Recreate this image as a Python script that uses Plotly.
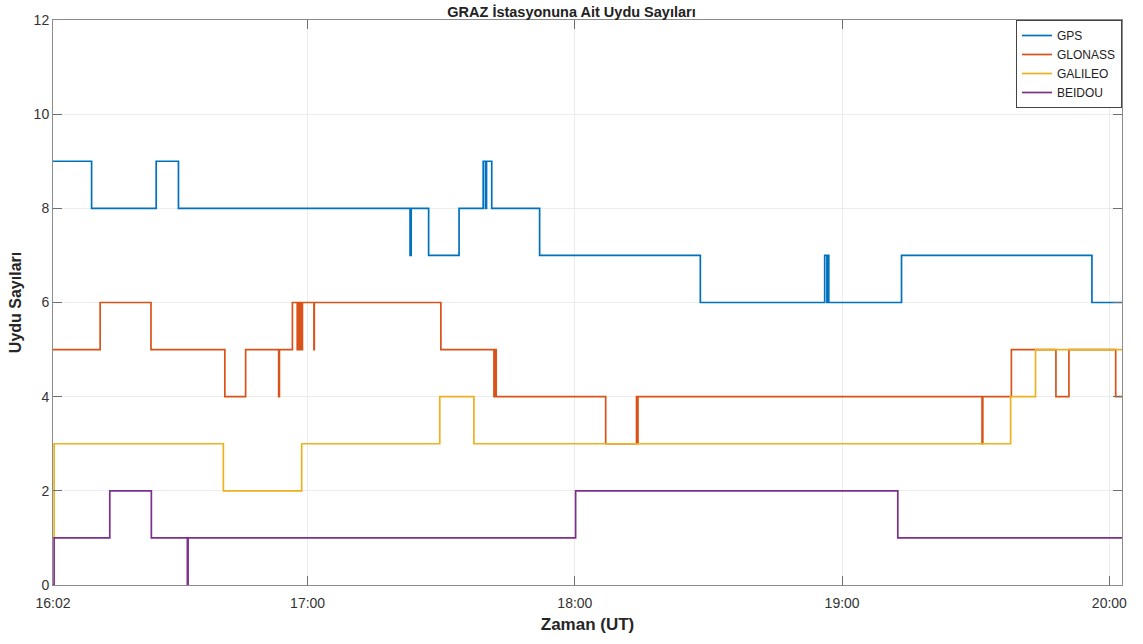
import plotly.graph_objects as go

DAY = "2019-01-01 "

gps_t = ["16:02:50", "16:11:30", "16:26:00", "16:31:00", "17:23:00", "17:23:15", "17:27:10",
         "17:34:00", "17:39:25", "17:39:55", "17:40:10", "17:41:20", "17:52:05", "18:28:10",
         "18:56:05", "18:56:35", "18:56:50", "18:57:00", "19:13:20", "19:56:05", "20:02:50"]
gps_v = [9, 8, 9, 8, 7, 8, 7, 8, 9, 8, 9, 8, 7, 6, 7, 6, 7, 6, 7, 6, 6]

glonass_t = ["16:02:50", "16:13:25", "16:24:50", "16:41:25", "16:46:05", "16:53:30", "16:53:40",
             "16:56:35", "16:57:40", "16:57:50", "16:58:10", "16:58:20", "16:58:40", "16:58:50",
             "17:01:25", "17:01:30", "17:29:55", "17:41:50", "17:42:05", "17:42:20", "18:06:55",
             "18:13:50", "18:14:00", "18:14:10", "19:31:25", "19:31:35", "19:38:00", "19:48:00",
             "19:50:55", "20:01:25", "20:02:50"]
glonass_v = [5, 6, 5, 4, 5, 4, 5, 6, 5, 6, 5, 6, 5, 6, 5, 6, 5, 4, 5, 4, 3,
             4, 3, 4, 3, 4, 5, 4, 5, 4, 4]

galileo_t = ["16:02:50", "16:03:05", "16:41:05", "16:58:40", "17:29:40", "17:37:20",
             "19:37:50", "19:43:25", "20:02:50"]
galileo_v = [1, 3, 2, 3, 4, 3, 4, 5, 5]

beidou_t = ["16:02:50", "16:03:05", "16:15:35", "16:24:55", "16:33:00", "16:33:10",
            "18:00:10", "19:12:30", "20:02:50"]
beidou_v = [0, 1, 2, 1, 0, 1, 2, 1, 1]

tick_vals = ["16:02:50", "17:00:00", "18:00:00", "19:00:00", "20:00:00"]
tick_text = ["16:02", "17:00", "18:00", "19:00", "20:00"]

series = [
    ("GPS", gps_t, gps_v, "#0072BD"),
    ("GLONASS", glonass_t, glonass_v, "#D95319"),
    ("GALILEO", galileo_t, galileo_v, "#EDB120"),
    ("BEIDOU", beidou_t, beidou_v, "#7E2F8E"),
]

fig = go.Figure()
for name, t, v, c in series:
    fig.add_trace(go.Scatter(
        x=[DAY + s for s in t], y=v, name=name, mode="lines",
        line=dict(color=c, width=1.7, shape="hv"),
    ))

axis_common = dict(
    showline=True, linecolor="#8c8c8c", linewidth=1, mirror="ticks",
    ticks="inside", ticklen=9, tickcolor="#6f6f6f", tickwidth=1,
    showgrid=True, gridcolor="#ececec", gridwidth=1, zeroline=False,
    tickfont=dict(family="Liberation Sans, Arial", size=14, color="#333333"),
)

fig.update_layout(
    width=1143, height=644,
    margin=dict(l=53, r=21, t=20, b=59),
    paper_bgcolor="white", plot_bgcolor="white",
    title=dict(text="<b>GRAZ İstasyonuna Ait Uydu Sayıları</b>", x=0.5, xanchor="center",
               y=1 - 12 / 644, yanchor="middle",
               font=dict(family="Liberation Sans, Arial", size=14.5, color="#222222")),
    xaxis=dict(axis_common, type="date",
               range=[DAY + "16:02:50", DAY + "20:02:50"],
               tickvals=[DAY + s for s in tick_vals], ticktext=tick_text,
               ticklabelstandoff=5,
               title=dict(text="<b>Zaman (UT)</b>", standoff=8,
                          font=dict(family="Liberation Sans, Arial", size=17, color="#262626"))),
    yaxis=dict(axis_common, range=[0, 12], tickvals=[0, 2, 4, 6, 8, 10, 12],
               title=dict(text="<b>Uydu Sayıları</b>", standoff=8,
                          font=dict(family="Liberation Sans, Arial", size=16, color="#262626"))),
    legend=dict(x=1, y=1, xanchor="right", yanchor="top", bgcolor="white",
                bordercolor="#444444", borderwidth=1, itemwidth=30, tracegroupgap=0,
                font=dict(family="Liberation Sans, Arial", size=12, color="#222222")),
    showlegend=True,
)

fig.write_html("out.html")
